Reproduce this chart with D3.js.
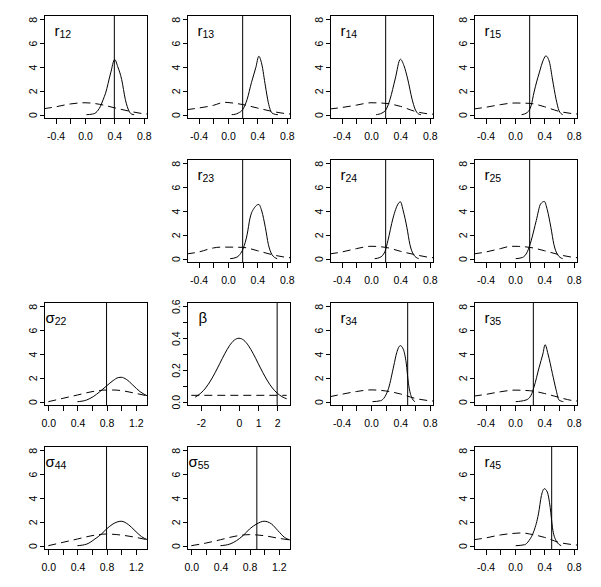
<!DOCTYPE html>
<html><head><meta charset="utf-8">
<script src="https://cdn.jsdelivr.net/npm/d3@7"></script>
<style>
body{margin:0;background:#fff}
svg{display:block}
text{font-family:"Liberation Sans",Arial,Helvetica,sans-serif;fill:#000}
</style>
</head><body>
<svg id="chart" width="601" height="587"></svg>
<script>
// ---------------- data ----------------
const rTicks = [-0.4,-0.2,0,0.2,0.4,0.6,0.8];
const rTickLabels = ["-0.4","","0.0","","0.4","","0.8"];
const sTicks = [0,0.2,0.4,0.6,0.8,1.0,1.2];
const sTickLabels = ["0.0","","0.4","","0.8","","1.2"];
const bTicks = [-2,-1,0,1,2];
const bTickLabels = ["-2","","0","1","2"];
const densTicks = [0,2,4,6,8];
const densTickLabels = ["0","2","4","6","8"];
const bDensTicks = [0,0.1,0.2,0.3,0.4,0.5,0.6];
const bDensTickLabels = ["0.0","","0.2","","0.4","","0.6"];

const panelIds   = ["r12","r13","r14","r15","r23","r24","r25","s22","beta","r34","r35","s44","s55","r45"];
const trueValues = [0.4, 0.2, 0.2, 0.2, 0.2, 0.2, 0.2, 0.8, 2, 0.5, 0.25, 0.8, 0.9, 0.5];

const post_r12 = [[0.02,0],[0.1,0.05],[0.15,0.18],[0.21,0.7],[0.25,1.3],[0.28,1.8],[0.35,3.5],[0.405,4.63],[0.445,4.05],[0.5,2.95],[0.55,1.27],[0.6,0.3],[0.64,0.04],[0.67,0]];
const prior_r12 = [[-0.56,0.5],[-0.4,0.66],[-0.2,0.9],[0.0,1.0],[0.2,0.87],[0.4,0.58],[0.6,0.3],[0.8,0.08],[0.86,0.05]];
const post_r13 = [[0.05,0],[0.1,0.04],[0.14,0.14],[0.2,0.43],[0.26,1.27],[0.32,2.7],[0.38,3.97],[0.42,4.9],[0.46,4.25],[0.51,2.4],[0.55,1.0],[0.6,0.14],[0.65,0.02],[0.68,0]];
const prior_r13 = [[-0.56,0.42],[-0.4,0.56],[-0.2,0.78],[-0.05,1.04],[0.0,1.02],[0.2,0.85],[0.4,0.56],[0.6,0.28],[0.8,0.08],[0.86,0.05]];
const post_r14 = [[0.07,0],[0.15,0.14],[0.21,0.48],[0.26,1.3],[0.33,3.0],[0.4,4.65],[0.45,4.1],[0.5,3.0],[0.56,1.3],[0.6,0.48],[0.65,0.05],[0.68,0]];
const prior_r14 = [[-0.56,0.48],[-0.4,0.6],[-0.2,0.8],[0.0,1.0],[0.2,0.95],[0.4,0.7],[0.6,0.28],[0.8,0.06],[0.86,0.04]];
const post_r15 = [[0.09,0],[0.17,0.2],[0.22,0.76],[0.26,1.9],[0.33,3.5],[0.39,4.65],[0.42,4.93],[0.47,4.4],[0.51,3.0],[0.56,1.3],[0.6,0.34],[0.65,0]];
const prior_r15 = [[-0.56,0.48],[-0.4,0.62],[-0.2,0.84],[0.0,0.98],[0.2,0.95],[0.4,0.67],[0.6,0.28],[0.8,0.08],[0.86,0.05]];
const post_r23 = [[0.03,0],[0.11,0.1],[0.16,0.34],[0.21,0.9],[0.26,2.0],[0.3,3.4],[0.36,4.27],[0.42,4.55],[0.46,4.0],[0.51,2.6],[0.55,1.2],[0.6,0.34],[0.67,0]];
const prior_r23 = [[-0.56,0.4],[-0.4,0.56],[-0.2,0.9],[-0.1,0.97],[0.0,0.97],[0.2,0.95],[0.4,0.67],[0.6,0.34],[0.8,0.11],[0.86,0.08]];
const post_r24 = [[0.05,0],[0.12,0.1],[0.19,0.6],[0.23,1.5],[0.3,3.4],[0.37,4.6],[0.4,4.78],[0.44,4.0],[0.49,2.6],[0.53,1.2],[0.58,0.34],[0.65,0]];
const prior_r24 = [[-0.56,0.4],[-0.4,0.56],[-0.2,0.84],[0.0,1.04],[0.2,0.95],[0.4,0.62],[0.6,0.34],[0.8,0.11],[0.86,0.08]];
const post_r25 = [[0.01,0],[0.1,0.1],[0.17,0.6],[0.22,1.5],[0.29,3.2],[0.35,4.6],[0.4,4.8],[0.44,4.1],[0.49,2.6],[0.53,1.2],[0.58,0.34],[0.65,0]];
const prior_r25 = [[-0.56,0.4],[-0.4,0.56],[-0.2,0.84],[-0.05,1.04],[0.05,1.03],[0.2,0.95],[0.4,0.67],[0.6,0.34],[0.8,0.11],[0.86,0.08]];
const post_s22 = [[0.4,0],[0.525,0.14],[0.616,0.42],[0.708,0.84],[0.8,1.32],[0.89,1.77],[0.96,2.02],[1.0,2.05],[1.07,1.88],[1.16,1.4],[1.26,0.84],[1.37,0.46]];
const prior_s22 = [[0,0],[0.2,0.28],[0.4,0.56],[0.6,0.84],[0.8,0.98],[0.9,0.98],[1.0,0.93],[1.2,0.7],[1.37,0.47]];
const post_beta = [[-2.3,0.028],[-2.0,0.054],[-1.75,0.086],[-1.5,0.13],[-1.25,0.183],[-1.0,0.242],[-0.75,0.301],[-0.5,0.352],[-0.25,0.387],[0,0.399],[0.25,0.387],[0.5,0.352],[0.75,0.301],[1.0,0.242],[1.25,0.183],[1.5,0.13],[1.75,0.086],[2.0,0.054],[2.25,0.032],[2.5,0.018]];
const prior_beta = [[-2.5,0.04],[2.5,0.04]];
const post_r34 = [[0.02,0],[0.13,0.08],[0.19,0.42],[0.24,1.13],[0.31,3.0],[0.35,4.1],[0.4,4.7],[0.44,4.4],[0.48,3.25],[0.51,1.55],[0.55,0.42],[0.6,0]];
const prior_r34 = [[-0.56,0.42],[-0.4,0.62],[-0.2,0.85],[0.0,0.99],[0.2,0.9],[0.4,0.65],[0.6,0.28],[0.8,0.08],[0.86,0.05]];
const post_r35 = [[0.01,0],[0.15,0.14],[0.22,0.55],[0.26,1.25],[0.33,2.9],[0.38,4.0],[0.41,4.78],[0.45,4.0],[0.51,2.36],[0.56,1.0],[0.6,0.14],[0.66,0]];
const prior_r35 = [[-0.56,0.47],[-0.4,0.61],[-0.2,0.83],[0.0,0.97],[0.2,0.92],[0.4,0.69],[0.6,0.36],[0.8,0.08],[0.86,0.05]];
const post_s44 = [[0.4,0],[0.53,0.14],[0.64,0.56],[0.73,0.98],[0.8,1.4],[0.89,1.83],[1.0,2.05],[1.1,1.77],[1.19,1.26],[1.28,0.76],[1.37,0.48]];
const prior_s44 = [[0,0],[0.2,0.28],[0.4,0.56],[0.6,0.84],[0.8,0.98],[0.94,0.93],[1.2,0.7],[1.37,0.48]];
const post_s55 = [[0.4,0],[0.53,0.14],[0.62,0.42],[0.71,0.84],[0.8,1.4],[0.9,1.83],[1.0,2.05],[1.1,1.83],[1.19,1.26],[1.28,0.7],[1.37,0.46]];
const prior_s55 = [[0,0],[0.2,0.22],[0.4,0.5],[0.6,0.79],[0.8,0.93],[0.9,0.9],[1.0,0.84],[1.2,0.62],[1.37,0.47]];
const post_r45 = [[0.01,0],[0.13,0.08],[0.19,0.42],[0.26,1.26],[0.32,2.67],[0.36,4.2],[0.4,4.78],[0.44,4.5],[0.48,3.2],[0.51,1.55],[0.56,0.42],[0.63,0]];
const prior_r45 = [[-0.56,0.5],[-0.4,0.65],[-0.2,0.9],[0.0,1.04],[0.1,1.07],[0.2,0.98],[0.4,0.7],[0.6,0.28],[0.8,0.08],[0.86,0.05]];

// ---------------- layout / configuration ----------------
const posts  = {r12:post_r12,r13:post_r13,r14:post_r14,r15:post_r15,r23:post_r23,r24:post_r24,r25:post_r25,s22:post_s22,beta:post_beta,r34:post_r34,r35:post_r35,s44:post_s44,s55:post_s55,r45:post_r45};
const priors = {r12:prior_r12,r13:prior_r13,r14:prior_r14,r15:prior_r15,r23:prior_r23,r24:prior_r24,r25:prior_r25,s22:prior_s22,beta:prior_beta,r34:prior_r34,r35:prior_r35,s44:prior_s44,s55:prior_s55,r45:prior_r45};
const grid = {r12:[0,0],r13:[0,1],r14:[0,2],r15:[0,3],r23:[1,1],r24:[1,2],r25:[1,3],s22:[2,0],beta:[2,1],r34:[2,2],r35:[2,3],s44:[3,0],s55:[3,1],r45:[3,3]};
const kinds = {
  r:    {xlim:[-0.5,0.8], ylim:[0,8],   xt:rTicks, xl:rTickLabels, yt:densTicks, yl:densTickLabels},
  s:    {xlim:[0,1.31],   ylim:[0,8],   xt:sTicks, xl:sTickLabels, yt:densTicks, yl:densTickLabels},
  b:    {xlim:[-2.5,2.5], ylim:[0,0.6], xt:bTicks, xl:bTickLabels, yt:bDensTicks, yl:bDensTickLabels}
};
function kindOf(id){ return id==="beta" ? "b" : (id[0]==="s" ? "s" : "r"); }
function labelOf(id){
  if(id==="beta") return {main:"\u03B2", sub:"", dx:11};
  if(id[0]==="s") return {main:"\u03C3", sub:id.slice(1), dx:1};
  return {main:"r", sub:id.slice(1), dx:10};
}

const colLeft = [44.5, 187.5, 330.5, 474.5];
const rowTop  = [15.5, 159.5, 302.5, 446.5];
const PW = 103, PH = 103;
const FS = 10.5;

const svg = d3.select("#chart");
const pad = (lim) => { const d = (lim[1]-lim[0])*0.04; return [lim[0]-d, lim[1]+d]; };

panelIds.forEach((id, i) => {
  const [r, c] = grid[id];
  const k = kinds[kindOf(id)];
  const x0 = colLeft[c], y0 = rowTop[r];
  const x = d3.scaleLinear().domain(pad(k.xlim)).range([0, PW]);
  const y = d3.scaleLinear().domain(pad(k.ylim)).range([PH, 0]);
  const g = svg.append("g").attr("transform", `translate(${x0},${y0})`);

  const clipId = "clip-" + id;
  g.append("clipPath").attr("id", clipId).append("rect").attr("width", PW).attr("height", PH);
  const plot = g.append("g").attr("clip-path", `url(#${clipId})`);

  const line = d3.line().x(d => x(d[0])).y(d => y(d[1])).curve(d3.curveMonotoneX);
  plot.append("path").datum(priors[id]).attr("d", line)
      .attr("fill","none").attr("stroke","#000").attr("stroke-width",1).attr("stroke-dasharray","8,5");
  plot.append("path").datum(posts[id]).attr("d", line)
      .attr("fill","none").attr("stroke","#000").attr("stroke-width",1);
  plot.append("line").attr("x1", x(trueValues[i])).attr("x2", x(trueValues[i]))
      .attr("y1", 0).attr("y2", PH).attr("stroke","#000").attr("stroke-width",1);

  // box
  g.append("rect").attr("width", PW).attr("height", PH)
   .attr("fill","none").attr("stroke","#000").attr("stroke-width",1).attr("shape-rendering","crispEdges");

  // x axis
  const xa = g.append("g").attr("transform", `translate(0,${PH})`)
    .call(d3.axisBottom(x).tickValues(k.xt).tickFormat((d,j) => k.xl[j]).tickSize(5).tickPadding(9).tickSizeOuter(0));
  xa.select(".domain").remove();
  xa.selectAll("line").attr("shape-rendering","crispEdges");
  xa.selectAll("text").attr("font-size", FS).attr("font-family", null);

  // y axis
  const ya = g.append("g")
    .call(d3.axisLeft(y).tickValues(k.yt).tickFormat((d,j) => k.yl[j]).tickSize(5).tickSizeOuter(0));
  ya.select(".domain").remove();
  ya.selectAll("line").attr("shape-rendering","crispEdges");
  ya.selectAll("text").attr("font-size", FS).attr("font-family", null)
    .attr("transform","rotate(-90)").attr("x",0).attr("y",-7.5).attr("dy",0)
    .attr("text-anchor","middle");

  // panel label
  const lab = labelOf(id);
  const t = g.append("text").attr("x", lab.dx).attr("y", 20).attr("font-size", 15);
  t.append("tspan").text(lab.main);
  if (lab.sub) t.append("tspan").attr("font-size", 10.5).attr("dy", 2.5).text(lab.sub);
});
</script>
</body></html>
